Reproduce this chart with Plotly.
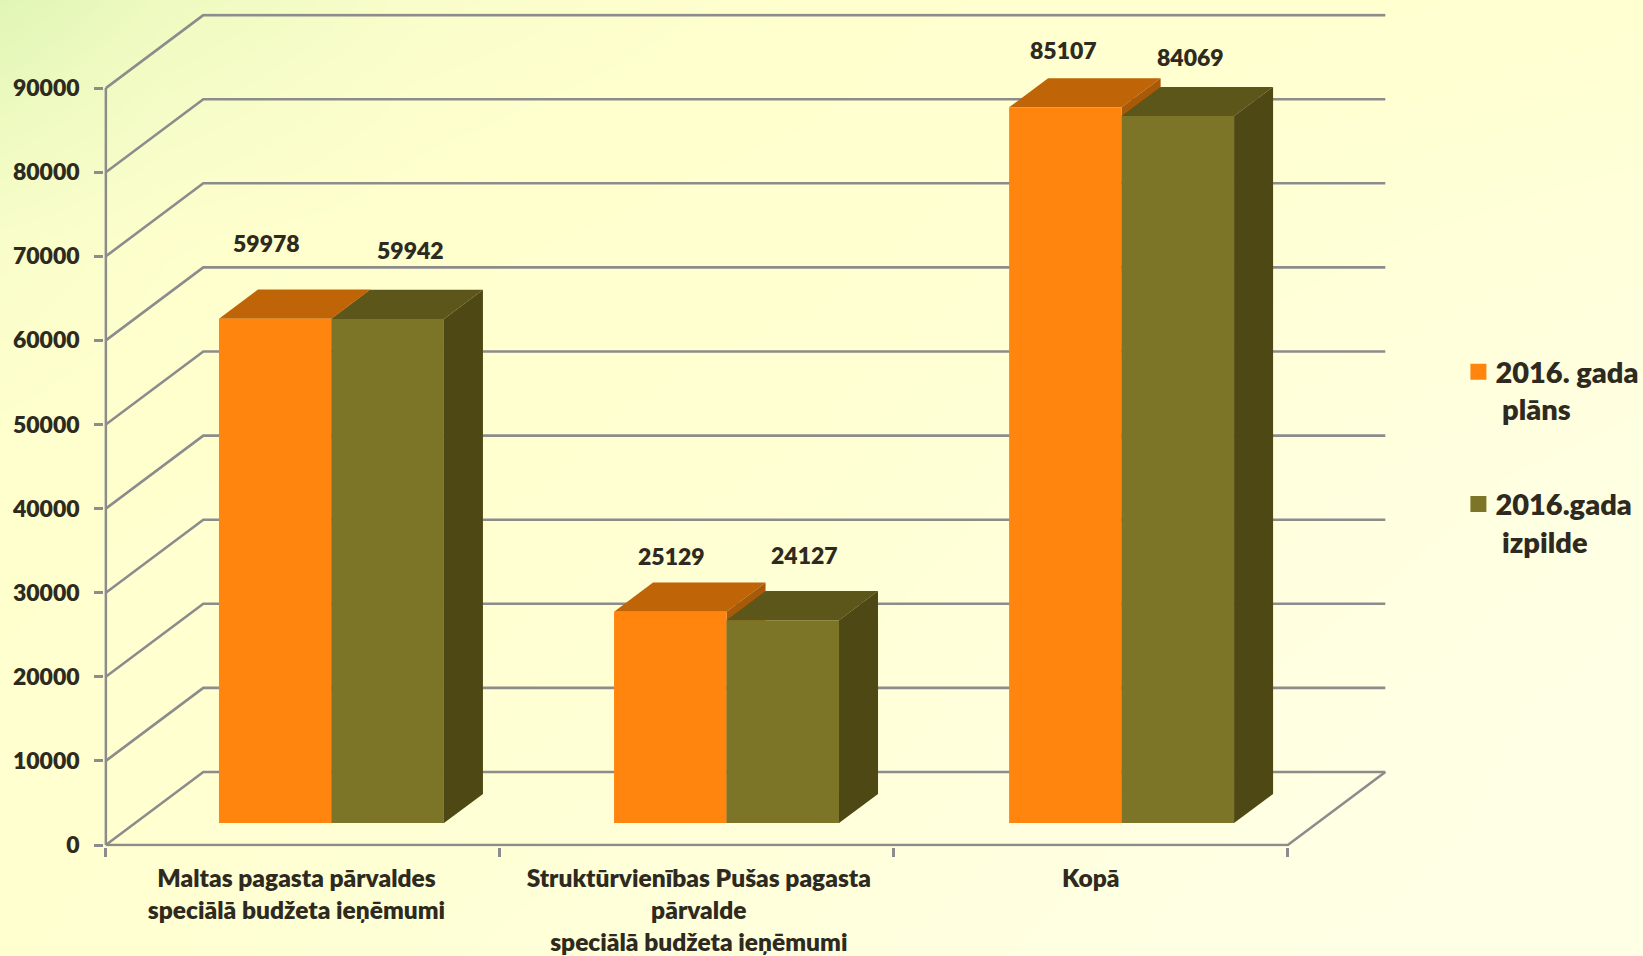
import plotly.graph_objects as go

categories = ["Maltas pagasta pārvaldes<br>speciālā budžeta ieņēmumi",
              "Struktūrvienības Pušas pagasta<br>pārvalde<br>speciālā budžeta ieņēmumi",
              "Kopā"]
plan_name = "2016. gada<br>&nbsp;plāns"
actual_name = "2016.gada<br>&nbsp;izpilde"
plan_values = [59978, 25129, 85107]
actual_values = [59942, 24127, 84069]
y_ticks = [0, 10000, 20000, 30000, 40000, 50000, 60000, 70000, 80000, 90000]

# per-label offsets (px) of the hand-placed data labels
plan_label_offset = [(-9, 76), (1, 56), (-2, 57)]
actual_label_offset = [(23, 69), (22, 65), (13, 59)]

# pseudo-3D geometry, in axis units
DX, DY = 0.2475, 8680
BAR_D0, BAR_D1 = 0.30, 0.70
BAR_START, BAR_W, BAR_PITCH = 0.213, 0.2855, 1.0027

W, H = 1643, 956
X0_PX, CAT_PX = 105.8, 394.0
Y0_PX, UNIT_PX = 845.0, 84.1 / 10000
x_range = [-0.004, 3.26]
y_range = [-180, 98870]

ORANGE = ["#FF850E", "#C06408", "#A85A08"]
OLIVE = ["#7C7528", "#5C561A", "#4D4814"]
GRID = "#8C8C8C"
TEXT = "#2E2A20"
FONT = "Lato"
WEIGHT = 800

# background wash
bg_x = [0, 0.1, 0.25, 0.5, 0.75, 1]
bg_y = [0, 0.1, 0.25, 0.5, 0.75, 1]
bg_z = [[0.00, 0.13, 0.24, 0.30, 0.34, 0.40],
        [0.10, 0.20, 0.27, 0.31, 0.38, 0.48],
        [0.24, 0.28, 0.30, 0.34, 0.50, 0.68],
        [0.30, 0.31, 0.33, 0.45, 0.72, 0.90],
        [0.32, 0.34, 0.42, 0.60, 0.85, 1.00],
        [0.36, 0.42, 0.55, 0.75, 0.95, 1.00]]


def pt(x, v, d):
    return x + d * DX, v + d * DY


def poly(points, color):
    xs, ys = zip(*[pt(*p) for p in points + points[:1]])
    return go.Scatter(x=xs, y=ys, mode="lines", fill="toself", fillcolor=color,
                      line=dict(width=0, color=color), xaxis="x2", yaxis="y2",
                      hoverinfo="skip", showlegend=False)


def box(x, w, v, colors):
    a, b = BAR_D0, BAR_D1
    return [
        poly([(x, v, a), (x + w, v, a), (x + w, v, b), (x, v, b)], colors[1]),
        poly([(x + w, 0, a), (x + w, 0, b), (x + w, v, b), (x + w, v, a)], colors[2]),
        poly([(x, 0, a), (x + w, 0, a), (x + w, v, a), (x, v, a)], colors[0]),
    ]


fig = go.Figure()
fig.add_trace(go.Heatmap(x=bg_x, y=bg_y, z=bg_z, zsmooth="best", showscale=False, hoverinfo="skip",
                         zmin=0, zmax=1,
                         colorscale=[[0, "#E0F6B6"], [0.3, "#FFFFCE"], [1, "#FFFFE6"]],
                         xaxis="x", yaxis="y"))

# walls: grid lines across the back and down the side, plus the floor edge
gx, gy = [], []
for v in y_ticks:
    for p in [pt(0, v, 0), pt(0, v, 1), pt(len(categories), v, 1)]:
        gx.append(p[0])
        gy.append(p[1])
    gx.append(None)
    gy.append(None)
for p in [pt(len(categories), 0, 1), pt(len(categories), 0, 0), pt(0, 0, 0)]:
    gx.append(p[0])
    gy.append(p[1])
gx.append(None)
gy.append(None)
gx += [0, 0]
gy += [0, y_ticks[-1]]
fig.add_trace(go.Scatter(x=gx, y=gy, mode="lines", line=dict(color=GRID, width=2.6),
                         xaxis="x2", yaxis="y2", hoverinfo="skip", showlegend=False))

annotations = []
for i in range(len(categories)):
    x0 = i * BAR_PITCH + BAR_START
    for t in box(x0, BAR_W, plan_values[i], ORANGE):
        fig.add_trace(t)
    for t in box(x0 + BAR_W, BAR_W, actual_values[i], OLIVE):
        fig.add_trace(t)
    for x, val, off in [(x0, plan_values[i], plan_label_offset[i]),
                        (x0 + BAR_W, actual_values[i], actual_label_offset[i])]:
        cx, cy = pt(x + BAR_W / 2, val, BAR_D0)
        annotations.append(dict(x=cx, y=cy, xref="x2", yref="y2", text=str(val), showarrow=False,
                                xshift=off[0], yshift=off[1],
                                font=dict(family=FONT, size=23, color=TEXT, weight=WEIGHT)))

for name, color, group in [(plan_name, ORANGE[0], "a"), (actual_name, OLIVE[0], "b")]:
    fig.add_trace(go.Scatter(x=[None], y=[None], mode="markers", name=name, legendgroup=group,
                             marker=dict(symbol="square", size=20, color=color),
                             xaxis="x2", yaxis="y2"))

px_x = lambda v: X0_PX + CAT_PX * v
px_y = lambda v: Y0_PX - UNIT_PX * v

fig.update_layout(
    width=W, height=H, margin=dict(l=0, r=0, t=0, b=0, autoexpand=False),
    paper_bgcolor="#FFFFD4", plot_bgcolor="rgba(0,0,0,0)",
    font=dict(family=FONT, color=TEXT),
    annotations=annotations,
    xaxis=dict(domain=[0, 1], range=[0, 1], visible=False, fixedrange=True),
    yaxis=dict(domain=[0, 1], range=[1, 0], visible=False, fixedrange=True),
    xaxis2=dict(domain=[px_x(x_range[0]) / W, px_x(x_range[1]) / W], range=x_range, anchor="y2",
                showgrid=False, zeroline=False, showline=False,
                tickmode="array", tickvals=[0.484, 1.505, 2.5], ticktext=categories,
                ticks="", tickangle=0,
                tickfont=dict(family=FONT, size=24.5, color=TEXT, weight=WEIGHT), ticklabelstandoff=15,
                minor=dict(tickmode="array", tickvals=[0, 1, 2, 3], ticks="outside", ticklen=9,
                           tickwidth=2.6, tickcolor=GRID)),
    yaxis2=dict(domain=[1 - px_y(y_range[0]) / H, 1 - px_y(y_range[1]) / H], range=y_range, anchor="x2",
                showgrid=False, zeroline=False, showline=False,
                tickmode="array", tickvals=y_ticks, tickformat="d",
                ticks="outside", ticklen=9, tickwidth=2.6, tickcolor=GRID,
                tickfont=dict(family=FONT, size=23, color=TEXT, weight=WEIGHT), ticklabelstandoff=10),
    showlegend=True,
    legend=dict(x=1455.4 / W, y=1 - 346 / H, xanchor="left", yanchor="top", bgcolor="rgba(0,0,0,0)",
                font=dict(family=FONT, size=29, color=TEXT, weight=WEIGHT),
                itemsizing="trace", itemwidth=30, tracegroupgap=54, traceorder="grouped"),
)

# the swatch sits beside the first line of its two-line entry, as in the reference
fig.write_html("out.html", config=dict(displayModeBar=False),
               post_script="document.body.style.margin='0';document.body.style.overflow='hidden';"
                           "document.querySelectorAll('.legend .legendsymbols').forEach("
                           "function(g){g.setAttribute('transform','translate(3,-18.5)');});")
